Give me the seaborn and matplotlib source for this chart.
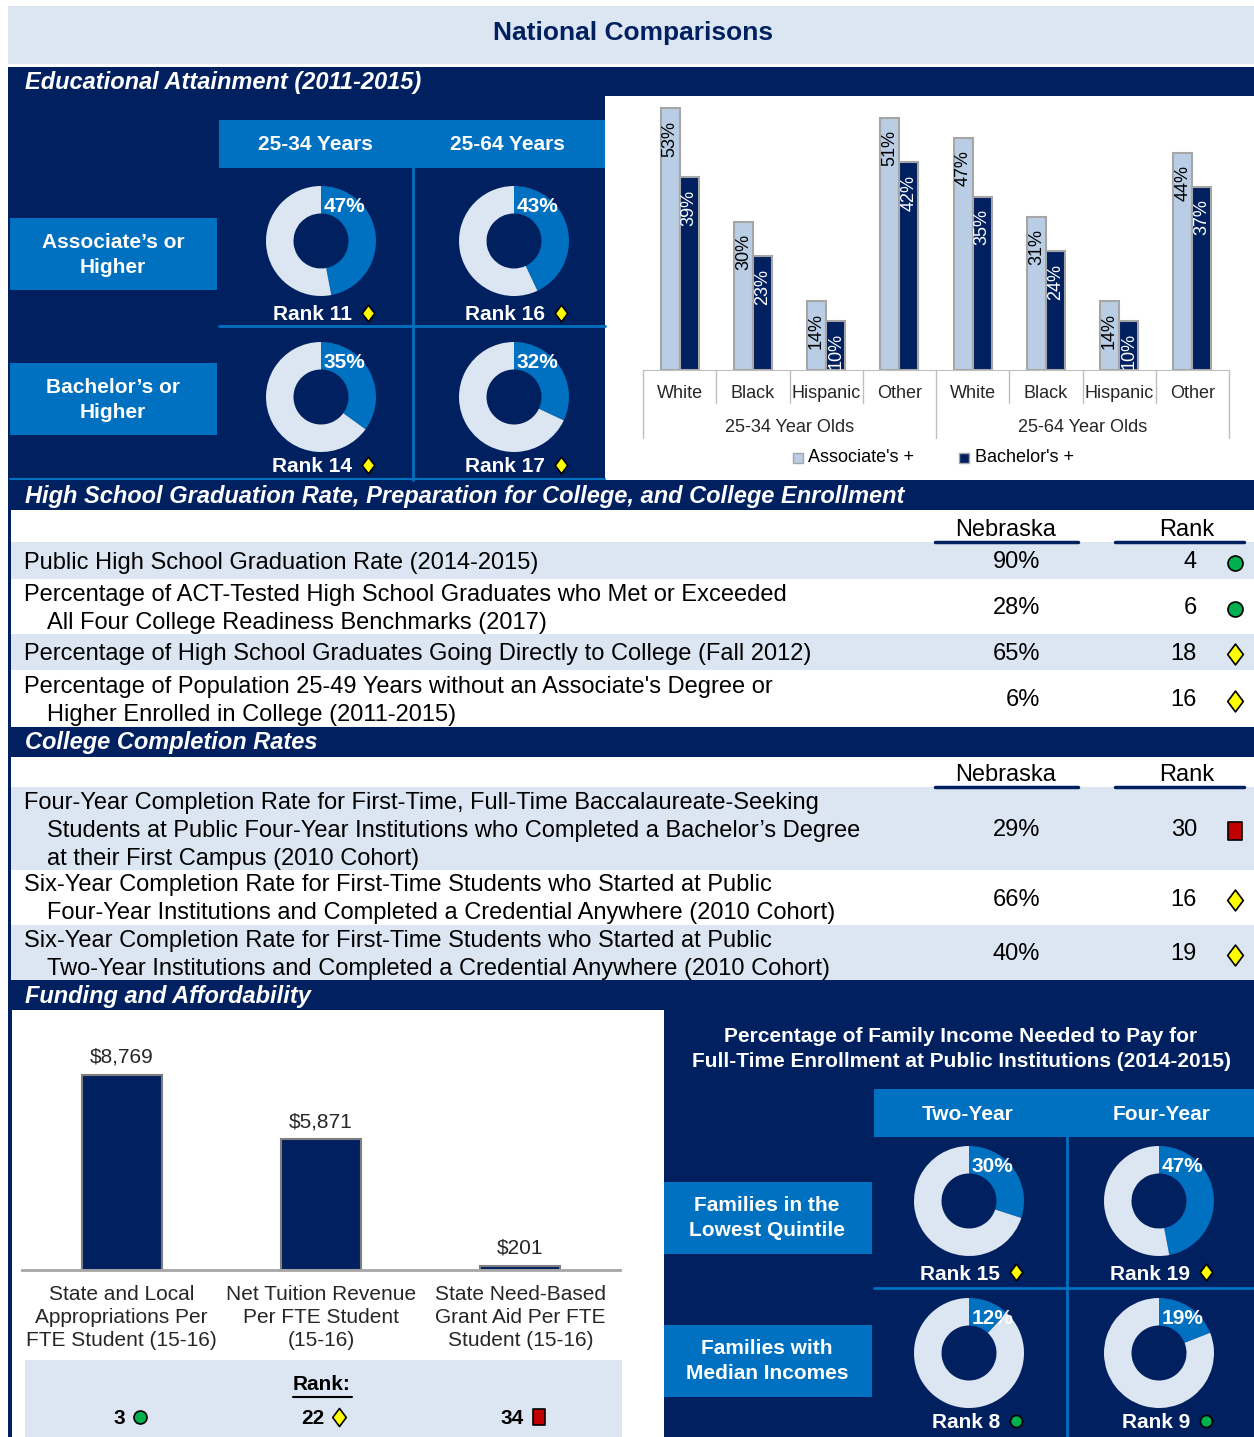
import matplotlib
matplotlib.use('Agg')
import matplotlib.pyplot as plt
from matplotlib.patches import Rectangle
from matplotlib.path import Path
from matplotlib.transforms import blended_transform_factory
import pandas as pd
import seaborn as sns

sns.set_style('white')
plt.rcParams['font.family'] = ['Liberation Sans', 'DejaVu Sans']

# ---- data ----
race_labels = ['White', 'Black', 'Hispanic', 'Other']
age_groups = ['25-34 Year Olds', '25-64 Year Olds']
assoc_pct = [53, 30, 14, 51, 47, 31, 14, 44]
bach_pct = [39, 23, 10, 42, 35, 24, 10, 37]

attain_pct = [47, 43, 35, 32]          # 25-34 assoc, 25-64 assoc, 25-34 bach, 25-64 bach
attain_rank = [11, 16, 14, 17]
attain_mark = ['diamond', 'diamond', 'diamond', 'diamond']

hs_labels = ['Public High School Graduation Rate (2014-2015)',
             'Percentage of ACT-Tested High School Graduates who Met or Exceeded\nAll Four College Readiness Benchmarks (2017)',
             'Percentage of High School Graduates Going Directly to College (Fall 2012)',
             "Percentage of Population 25-49 Years without an Associate's Degree or\nHigher Enrolled in College (2011-2015)"]
hs_values = ['90%', '28%', '65%', '6%']
hs_ranks = [4, 6, 18, 16]
hs_marks = ['circle', 'circle', 'diamond', 'diamond']

cc_labels = ['Four-Year Completion Rate for First-Time, Full-Time Baccalaureate-Seeking\nStudents at Public Four-Year Institutions who Completed a Bachelor\u2019s Degree\nat their First Campus (2010 Cohort)',
             'Six-Year Completion Rate for First-Time Students who Started at Public\nFour-Year Institutions and Completed a Credential Anywhere (2010 Cohort)',
             'Six-Year Completion Rate for First-Time Students who Started at Public\nTwo-Year Institutions and Completed a Credential Anywhere (2010 Cohort)']
cc_values = ['29%', '66%', '40%']
cc_ranks = [30, 16, 19]
cc_marks = ['square', 'diamond', 'diamond']

fund_keys = ['approp', 'tuition', 'grant']
fund_labels = ['State and Local\nAppropriations Per\nFTE Student (15-16)',
               'Net Tuition Revenue\nPer FTE Student\n(15-16)',
               'State Need-Based\nGrant Aid Per FTE\nStudent (15-16)']
fund_values = [8769, 5871, 201]
fund_ranks = [3, 22, 34]
fund_marks = ['circle', 'diamond', 'square']

afford_pct = [30, 47, 12, 19]          # lowest two-yr, lowest four-yr, median two-yr, median four-yr
afford_rank = [15, 19, 8, 9]
afford_mark = ['diamond', 'diamond', 'circle', 'circle']

# ---- style ----
NAVY = '#002060'
BLUE = '#0070C0'
LIGHT = '#DCE6F2'
BAR_LIGHT = '#B9CDE5'
GRAY = '#A6A6A6'

diamond_path = Path([(0, 1), (0.75, 0), (0, -1), (-0.75, 0), (0, 1)],
                    [Path.MOVETO, Path.LINETO, Path.LINETO, Path.LINETO, Path.CLOSEPOLY])
rect_path = Path([(-0.8, -1), (0.8, -1), (0.8, 1), (-0.8, 1), (-0.8, -1)],
                 [Path.MOVETO, Path.LINETO, Path.LINETO, Path.LINETO, Path.CLOSEPOLY])
MARKS = {'circle': dict(marker='o', mfc='#00B050', scale=0.72),
         'diamond': dict(marker=diamond_path, mfc='#FFFF00', scale=1.0),
         'square': dict(marker=rect_path, mfc='#C00000', scale=0.85)}

W, H = 1254, 1437
fig = plt.figure(figsize=(W / 100, H / 100), dpi=100)
bg = fig.add_axes([0, 0, 1, 1])
bg.set_xlim(0, W)
bg.set_ylim(H, 0)
bg.axis('off')


def box(x0, y0, x1, y1, color):
    bg.add_patch(Rectangle((x0, y0), x1 - x0, y1 - y0, color=color, lw=0))


def put(x, y, s, size=15, color='black', weight='normal', style='normal', ha='center', va='center', ls=1.35):
    bg.text(x, y, s, fontsize=size, color=color, fontweight=weight, fontstyle=style,
            ha=ha, va=va, linespacing=ls)


def mark(x, y, kind, size):
    m = MARKS[kind]
    bg.plot(x, y, marker=m['marker'], ms=size * m['scale'], mfc=m['mfc'], mec='black', mew=1.2,
            ls='none', clip_on=False, zorder=5)


def axes_px(x0, y0, x1, y1):
    return fig.add_axes([x0 / W, 1 - y1 / H, (x1 - x0) / W, (y1 - y0) / H])


def donut(cx, cy, pct, r=55):
    ax = axes_px(cx - r, cy - r, cx + r, cy + r)
    ax.pie([pct, 100 - pct], colors=[BLUE, LIGHT], startangle=90, counterclock=False,
           wedgeprops=dict(width=0.5, linewidth=0))
    ax.set_xlim(-1, 1)
    ax.set_ylim(-1, 1)
    ax.axis('off')
    ax.text(0.42, 0.62, f'{pct}%', color='white', fontsize=15, fontweight='bold', ha='center', va='center')


# ---- background blocks ----
box(8, 6, W, 64, LIGHT)
put(633, 33, 'National Comparisons', size=19, color=NAVY, weight='bold')
box(8, 67, W, H, NAVY)

# educational attainment
put(25, 82, 'Educational Attainment (2011-2015)', size=17, color='white', weight='bold', style='italic', ha='left')
box(219, 120, 605, 168, BLUE)
put(315, 145, '25-34 Years', color='white', weight='bold')
put(507, 145, '25-64 Years', color='white', weight='bold')
box(10, 218, 217, 290, BLUE)
put(113, 255, 'Associate\u2019s or\nHigher', color='white', weight='bold')
box(10, 363, 217, 435, BLUE)
put(113, 400, 'Bachelor\u2019s or\nHigher', color='white', weight='bold')
bg.plot([413, 413], [168, 480], color=BLUE, lw=2)
bg.plot([219, 605], [326, 326], color=BLUE, lw=2)
bg.plot([10, 605], [479, 479], color=BLUE, lw=1.5)

cells = [(316, 241), (509, 241), (316, 397), (509, 397)]
rank_y = [315, 315, 467, 467]
for (cx, cy), p, rk, mk, ry in zip(cells, attain_pct, attain_rank, attain_mark, rank_y):
    donut(cx + 5, cy, p)
    put(cx + 36, ry, f'Rank {rk}', color='white', weight='bold', ha='right')
    mark(cx + 52, ry - 2, mk, 12)

# race bar chart
box(605, 96, W, 480, 'white')
slots = [f'{r}|{g}' for g in age_groups for r in race_labels]
race_df = pd.DataFrame({'slot': slots * 2,
                        'degree': ["Associate's +"] * 8 + ["Bachelor's +"] * 8,
                        'pct': assoc_pct + bach_pct})
ax1 = axes_px(643, 96, 1229, 370)
sns.barplot(data=race_df, x='slot', y='pct', hue='degree', order=slots,
            hue_order=["Associate's +", "Bachelor's +"], palette=[BAR_LIGHT, NAVY],
            saturation=1, width=0.52, edgecolor=GRAY, linewidth=1.5, legend=False, ax=ax1)
ax1.set_xlim(-0.5, 7.5)
ax1.set_ylim(0, 274 / 4.943)
ax1.patch.set_alpha(0)
for s in ['top', 'right', 'left']:
    ax1.spines[s].set_visible(False)
ax1.spines['bottom'].set_color('#BFBFBF')
ax1.set_yticks([])
ax1.set_xlabel('')
ax1.set_ylabel('')
ax1.set_xticks(range(8))
ax1.set_xticklabels(race_labels * 2, fontsize=13)
ax1.tick_params(axis='x', length=0, pad=11)
for cont, vals, col in zip(ax1.containers, [assoc_pct, bach_pct], ['black', 'white']):
    for bar, v in zip(cont, vals):
        ax1.annotate(f'{v}%', (bar.get_x() + bar.get_width() / 2, bar.get_height()),
                     xytext=(0, -9), textcoords='offset points', rotation=90,
                     ha='center', va='top', fontsize=13, color=col)
trans = blended_transform_factory(ax1.transData, ax1.transAxes)
for b in range(9):
    depth = (438 - 370) / 274 if b % 4 == 0 else (403 - 370) / 274
    ax1.plot([b - 0.5, b - 0.5], [0, -depth], transform=trans, clip_on=False, color='#BFBFBF', lw=1)
for gi, g in enumerate(age_groups):
    ax1.text(gi * 4 + 1.5, -(428 - 370) / 274, g, transform=trans, ha='center', va='center', fontsize=13)
bg.plot(798, 458, marker='s', ms=7, mfc=BAR_LIGHT, mec=GRAY, ls='none')
put(808, 458, "Associate's +", size=13, ha='left')
bg.plot(964, 458, marker='s', ms=7, mfc=NAVY, mec=GRAY, ls='none')
put(975, 458, "Bachelor's +", size=13, ha='left')

# high school table
put(25, 497, 'High School Graduation Rate, Preparation for College, and College Enrollment',
    size=17, color='white', weight='bold', style='italic', ha='left')


def table(top, head_y, rule_y, bands, labels, values, ranks, marks):
    box(11, top, W, bands[-1][1], 'white')
    put(1006, head_y, 'Nebraska', size=17)
    put(1187, head_y, 'Rank', size=17)
    bg.plot([935, 1078], [rule_y, rule_y], color=NAVY, lw=2.5)
    bg.plot([1115, 1244], [rule_y, rule_y], color=NAVY, lw=2.5)
    for i, ((y0, y1), lab, val, rk, mk) in enumerate(zip(bands, labels, values, ranks, marks)):
        if i % 2 == 0:
            box(11, y0, W, y1, LIGHT)
        yc = (y0 + y1) / 2 + 2
        lines = lab.split('\n')
        for j, line in enumerate(lines):
            ly = yc + (j - (len(lines) - 1) / 2) * 28
            put(24 if j == 0 else 47, ly, line, size=17, ha='left')
        put(1040, yc, val, size=17, ha='right')
        put(1197, yc, str(rk), size=17, ha='right')
        mark(1235, yc, mk, 15)


table(510, 530, 542, [(542, 579), (579, 634), (634, 670), (670, 727)],
      hs_labels, hs_values, hs_ranks, hs_marks)

put(25, 743, 'College Completion Rates', size=17, color='white', weight='bold', style='italic', ha='left')
table(757, 775, 787, [(787, 870), (870, 925), (925, 980)],
      cc_labels, cc_values, cc_ranks, cc_marks)

# funding
put(25, 996, 'Funding and Affordability', size=17, color='white', weight='bold', style='italic', ha='left')
box(12, 1010, 664, H, 'white')
box(25, 1360, 622, H, LIGHT)

ax2 = axes_px(22, 1040, 620, 1270)
sns.barplot(x=fund_keys, y=fund_values, color=NAVY, saturation=1, width=0.4, edgecolor='#7F7F7F',
            linewidth=1.5, ax=ax2)
ax2.set_xlim(-0.5, 2.5)
ax2.set_ylim(0, 230 / 0.022238)
ax2.patch.set_alpha(0)
for s in ['top', 'right', 'left']:
    ax2.spines[s].set_visible(False)
ax2.spines['bottom'].set_color(GRAY)
ax2.spines['bottom'].set_linewidth(2)
ax2.set_yticks([])
ax2.set_xticks(range(3))
ax2.set_xticklabels(fund_labels, fontsize=15, linespacing=1.27)
ax2.set_xticks([-0.5, 0.5, 1.5, 2.5], minor=True)
ax2.tick_params(axis='x', which='major', length=0, pad=11)
ax2.tick_params(axis='x', which='minor', length=7, width=1.5, color=GRAY, direction='out')
for bar, v in zip(ax2.patches, fund_values):
    ax2.annotate(f'${v:,}', (bar.get_x() + bar.get_width() / 2, bar.get_height()),
                 xytext=(0, 6), textcoords='offset points', ha='center', va='bottom', fontsize=15)

put(322, 1385, 'Rank:', weight='bold')
bg.plot([293, 352], [1397, 1397], color='black', lw=1.5)
for i, (rk, mk) in enumerate(zip(fund_ranks, fund_marks)):
    xc = 122 + i * 199.3
    put(xc + 3, 1419, str(rk), weight='bold', ha='right')
    mark(xc + 18, 1417, mk, 13)

# affordability donuts
put(961, 1049, 'Percentage of Family Income Needed to Pay for\nFull-Time Enrollment at Public Institutions (2014-2015)',
    color='white', weight='bold')
box(874, 1089, W, 1137, BLUE)
put(968, 1114, 'Two-Year', color='white', weight='bold')
put(1162, 1114, 'Four-Year', color='white', weight='bold')
box(664, 1182, 872, 1254, BLUE)
put(767, 1218, 'Families in the\nLowest Quintile', color='white', weight='bold')
box(664, 1325, 872, 1397, BLUE)
put(767, 1361, 'Families with\nMedian Incomes', color='white', weight='bold')
bg.plot([1067, 1067], [1137, H], color=BLUE, lw=2)
bg.plot([874, W], [1288, 1288], color=BLUE, lw=2)

cells2 = [(970, 1201), (1160, 1201), (970, 1353), (1160, 1353)]
rank_y2 = [1274, 1274, 1423, 1423]
for (cx, cy), p, rk, mk, ry in zip(cells2, afford_pct, afford_rank, afford_mark, rank_y2):
    donut(cx - 1, cy, p)
    put(cx + 30, ry, f'Rank {rk}', color='white', weight='bold', ha='right')
    mark(cx + 46, ry - 2, mk, 12)

fig.savefig('out.png', dpi=100)
